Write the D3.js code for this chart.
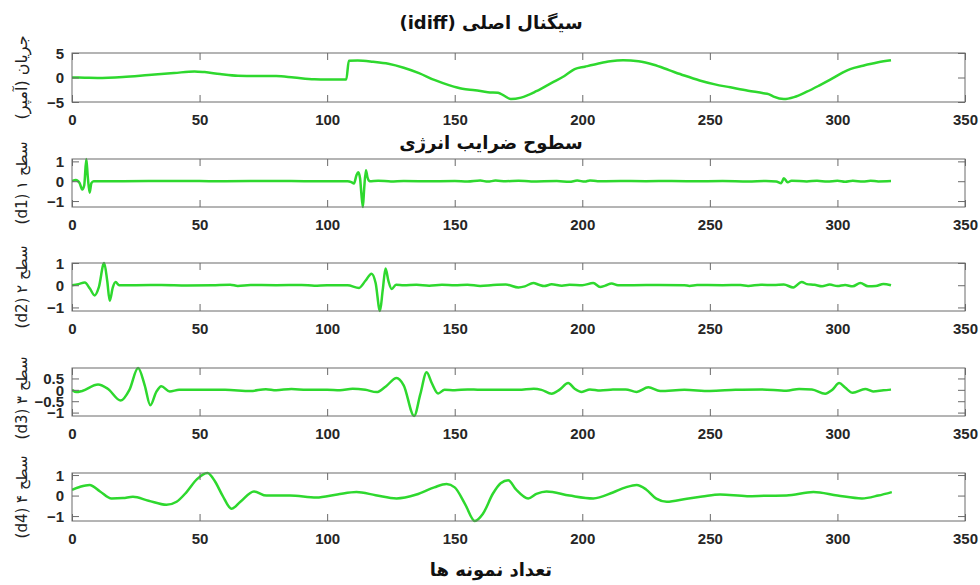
<!DOCTYPE html>
<html>
<head>
<meta charset="utf-8">
<script src="https://cdn.jsdelivr.net/npm/d3@7"></script>
<style>
  html, body { margin: 0; padding: 0; background: #fff; }
  svg { display: block; }
</style>
</head>
<body>
<svg id="chart" width="980" height="585"></svg>
<script>
// Sample index axis
const xTicks = [0, 50, 100, 150, 200, 250, 300, 350];
const xDomain = [0, 350];

// Original differential current signal (sample index, amperes)
const idiff = [
  [0,0],[5,-0.05],[10,-0.1],[20,0.1],[30,0.5],[40,0.9],[48,1.25],[52,1.1],[58,0.7],[65,0.35],
  [72,0.3],[80,0.3],[87,0.0],[95,-0.35],[100,-0.4],[107.5,-0.4],[108.5,3.4],[112,3.45],[118,3.2],
  [124,2.8],[130,2.0],[136,0.9],[142,-0.5],[148,-1.6],[153,-2.3],[158,-2.6],[163,-3.0],[167,-3.1],
  [169,-3.6],[172,-4.4],[176,-4.1],[182,-2.8],[188,-1.1],[193,0.3],[197,1.7],[201,2.2],[206,2.8],
  [211,3.3],[216,3.5],[222,3.3],[228,2.6],[234,1.5],[240,0.4],[246,-0.6],[252,-1.4],[258,-2.0],
  [265,-2.7],[271,-3.2],[273,-3.4],[275,-3.9],[279,-4.4],[283,-4.0],[288,-2.9],[293,-1.6],
  [297,-0.5],[302,1.0],[305,1.7],[310,2.4],[316,3.1],[321,3.5]
];

// Detail coefficients, level 1
const detail1 = [
  [0,0],[1.5,0.06],[3,-0.1],[4,-0.42],[4.8,-0.2],[5.6,1.12],[6.2,0.2],[6.9,-0.58],[7.6,-0.1],[8.5,0],
  [20,0],[40,0.01],[60,0],[80,0.01],[100,0],[108,0],[109.5,-0.05],[110.5,-0.12],[111.5,0.3],
  [112.2,0.45],[112.9,0.15],[113.4,-0.6],[114,-1.3],[114.5,-0.4],[115.2,0.55],[115.8,0.2],[116.6,0],
  [120,0.02],[125,-0.01],[130,0.01],[140,0],[150,0.01],[155,-0.02],[160,0.03],[163,-0.02],[166,0.03],
  [170,0],[175,0.02],[180,-0.01],[190,0.01],[195,-0.03],[198,0.03],[201,-0.02],[203,0.04],[206,0],
  [215,0.01],[225,0],[235,0.01],[245,0],[255,0.01],[265,-0.01],[272,0.01],[276,-0.01],[278,-0.1],
  [279,0.15],[280.5,-0.05],[282,0.02],[288,-0.01],[292,0.02],[296,-0.02],[300,0.02],[303,-0.03],
  [306,0.02],[310,-0.02],[313,0.02],[316,-0.01],[321,0.01]
];

// Detail coefficients, level 2
const detail2 = [
  [0,0],[2.5,0.05],[5,0.12],[7,-0.15],[8.9,-0.46],[10.5,-0.1],[12.6,1.0],[13.8,0.2],[14.8,-0.7],
  [16,-0.1],[17.1,0.14],[18.5,0],[25,0],[35,0.01],[45,-0.01],[55,0],[62,0.02],[65,-0.03],[70,0.01],
  [80,0],[90,0.01],[95,-0.02],[100,0],[108,0],[112.5,-0.12],[115,0.2],[117.4,0.52],[119,0.1],
  [120.7,-1.16],[121.8,-0.2],[122.9,0.75],[124,0.2],[125.3,-0.17],[127,0.02],[130,0],[135,0.02],
  [140,-0.02],[145,0.02],[150,0],[155,0.02],[160,-0.03],[165,0.01],[170,0.03],[175,-0.1],
  [177.5,-0.05],[180.8,0.1],[183,0.02],[185,-0.04],[188,0.04],[192,-0.02],[195,0.02],[200,0],
  [204.3,0.1],[207,-0.08],[209,-0.02],[211.5,0.08],[214,0],[220,0],[230,0.01],[240,0],[242,-0.03],
  [245,0.01],[255,0],[262,0.01],[265,-0.03],[270,0.02],[275,0.01],[279,0.03],[282.7,-0.1],[286,0.15],
  [288,0.05],[291,0.02],[294,-0.05],[297,0.03],[300,-0.04],[303,0.01],[306,-0.05],[309,0.1],
  [312,-0.05],[315,-0.04],[318,0.06],[321,0]
];

// Detail coefficients, level 3
const detail3 = [
  [0,0],[1.7,-0.1],[4,-0.05],[10.2,0.23],[14,0.05],[19.1,-0.47],[22.5,0],[25.9,0.96],[28.5,0.2],
  [30.7,-0.68],[33,-0.1],[35,0.16],[38.3,-0.07],[42,0],[50,0],[60,0],[70,-0.05],[76,0.03],[80,-0.02],
  [86,0.04],[92,0],[100,0],[105,-0.02],[110,0.05],[115,0],[119.4,-0.1],[123,0.15],[127.2,0.52],
  [130,0.2],[134.1,-1.15],[136.5,-0.2],[139,0.77],[141,0.3],[143.5,-0.16],[146,0],[150,-0.02],
  [155,0.02],[160,0],[170,0],[175,0],[181,0.05],[184,0],[188,-0.17],[191,0],[194.5,0.3],[197,0.05],
  [199.8,-0.09],[203,0.02],[207,-0.03],[212,0.01],[217,0.02],[221.3,-0.09],[225.9,0.11],
  [230.5,-0.05],[240,0],[250,-0.05],[260,0],[270,0.02],[280,-0.04],[285,0.04],[290,0.02],
  [295.2,-0.17],[298,0],[300.7,0.3],[303,0.1],[306,-0.13],[310.9,0.04],[314,-0.07],[318,-0.02],
  [321,0.01]
];

// Detail coefficients, level 4
const detail4 = [
  [0,0.28],[3,0.42],[6.9,0.52],[11,0.2],[15.5,-0.14],[20,-0.12],[23.9,-0.06],[30,-0.25],[37,-0.45],
  [41,-0.3],[44.9,0.17],[49,0.8],[53.1,1.1],[56,0.7],[59,0],[62.5,-0.64],[66,-0.3],[71.3,0.2],
  [76.2,0.0],[85.4,0.0],[95.8,-0.1],[104,0.05],[111.5,0.17],[119,0.02],[127.2,-0.14],[135,0.05],
  [142,0.4],[146.8,0.56],[150,0.4],[154,-0.4],[157.9,-1.24],[161,-0.9],[165,0.1],[168,0.6],
  [171,0.75],[174,0.3],[178.8,-0.14],[182,0.08],[186,0.2],[195,0],[204.3,-0.14],[212,0.15],
  [217,0.4],[221.3,0.52],[225,0.3],[229,-0.15],[233.1,-0.3],[241,-0.15],[247,-0.05],[254,0.05],
  [264.6,-0.03],[272,-0.01],[280,0],[290.6,0.17],[300,0],[309.6,-0.14],[316,0],[321.3,0.17]
];

// Axis labels and titles
const yLabels = ["جریان (آمپر)", "سطح ۱ (d1)", "سطح ۲ (d2)", "سطح ۳ (d3)", "سطح ۴ (d4)"];
const yTickSets = [[-5, 0, 5], [-1, 0, 1], [-1, 0, 1], [-1, -0.5, 0, 0.5], [-1, 0, 1]];
const titles = ["سیگنال اصلی (idiff)", "سطوح ضرایب انرژی"];
const xLabel = "تعداد نمونه ها";

const series = [idiff, detail1, detail2, detail3, detail4];

// Panel placement on the page
const panelBoxes = [
  { top: 53, bottom: 102 },
  { top: 159, bottom: 207 },
  { top: 263, bottom: 311 },
  { top: 368, bottom: 416 },
  { top: 473, bottom: 521 }
];
const left = 72, right = 965;
const tickLen = 7;
const boxColor = "#6a6a6a";
const lineColor = "#2ed82e";
const tickFont = "'Liberation Sans', Arial, sans-serif";
const faFont = "'DejaVu Sans', 'Noto Sans', sans-serif";

const svg = d3.select("#chart");
const x = d3.scaleLinear().domain(xDomain).range([left, right]);

series.forEach((data, i) => {
  const box = panelBoxes[i];
  const yDom = i === 0 ? [-5, 5] : d3.extent(data, d => d[1]);
  const y = d3.scaleLinear().domain(yDom).range([box.bottom, box.top]);
  const g = svg.append("g");

  // clip to plot area
  const clipId = "clip" + i;
  svg.append("clipPath").attr("id", clipId)
    .append("rect")
    .attr("x", left).attr("y", box.top - 2)
    .attr("width", right - left).attr("height", box.bottom - box.top + 4);

  // signal trace
  const line = d3.line()
    .x(d => x(d[0]))
    .y(d => y(d[1]))
    .curve(d3.curveMonotoneX);
  g.append("path")
    .datum(data)
    .attr("clip-path", `url(#${clipId})`)
    .attr("fill", "none")
    .attr("stroke", lineColor)
    .attr("stroke-width", 2.5)
    .attr("stroke-linejoin", "round")
    .attr("d", line);

  // bottom axis with inward ticks
  const xb = d3.axisBottom(x).tickValues(xTicks).tickSize(-tickLen).tickPadding(tickLen + 5)
    .tickFormat(d3.format("d"));
  const gx = g.append("g").attr("transform", `translate(0,${box.bottom})`).call(xb);
  // top axis (ticks only)
  const xt = d3.axisTop(x).tickValues(xTicks).tickSize(-tickLen).tickFormat("");
  const gxt = g.append("g").attr("transform", `translate(0,${box.top})`).call(xt);
  // left axis
  const yl = d3.axisLeft(y).tickValues(yTickSets[i]).tickSize(-tickLen).tickPadding(8)
    .tickFormat(d => d3.format("")(d));
  const gy = g.append("g").attr("transform", `translate(${left},0)`).call(yl);
  // right axis (ticks only)
  const yr = d3.axisRight(y).tickValues(yTickSets[i]).tickSize(-tickLen).tickFormat("");
  const gyr = g.append("g").attr("transform", `translate(${right},0)`).call(yr);

  [gx, gxt, gy, gyr].forEach(a => {
    a.select(".domain").remove();
    a.selectAll(".tick line").attr("stroke", boxColor).attr("stroke-width", 1);
    a.selectAll(".tick text")
      .attr("fill", "#262626")
      .style("font-family", tickFont)
      .style("font-size", "15px")
      .style("font-weight", "bold");
  });
  gy.selectAll(".tick text").attr("dy", "0.36em");

  // frame
  g.append("rect")
    .attr("x", left).attr("y", box.top)
    .attr("width", right - left).attr("height", box.bottom - box.top)
    .attr("fill", "none").attr("stroke", boxColor).attr("stroke-width", 1);

  // y label, rotated
  const cy = (box.top + box.bottom) / 2 + (i === 3 ? 6 : 0);
  svg.append("text")
    .attr("transform", `translate(22,${cy}) rotate(-90)`)
    .attr("text-anchor", "middle")
    .attr("dominant-baseline", "middle")
    .attr("direction", "rtl")
    .style("font-family", faFont)
    .style("font-size", i === 0 ? "16px" : "15px")
    .attr("fill", "#222")
    .text(yLabels[i]);
});

// titles
const titleSpecs = [
  { text: titles[0], y: 29 },
  { text: titles[1], y: 149 },
  { text: xLabel, y: 576 }
];
svg.selectAll("text.title")
  .data(titleSpecs)
  .join("text")
  .attr("class", "title")
  .attr("x", 491).attr("y", d => d.y)
  .attr("text-anchor", "middle")
  .attr("direction", "rtl")
  .style("font-family", faFont)
  .style("font-size", "18px")
  .style("font-weight", "bold")
  .attr("fill", "#111")
  .text(d => d.text);
</script>
</body>
</html>
